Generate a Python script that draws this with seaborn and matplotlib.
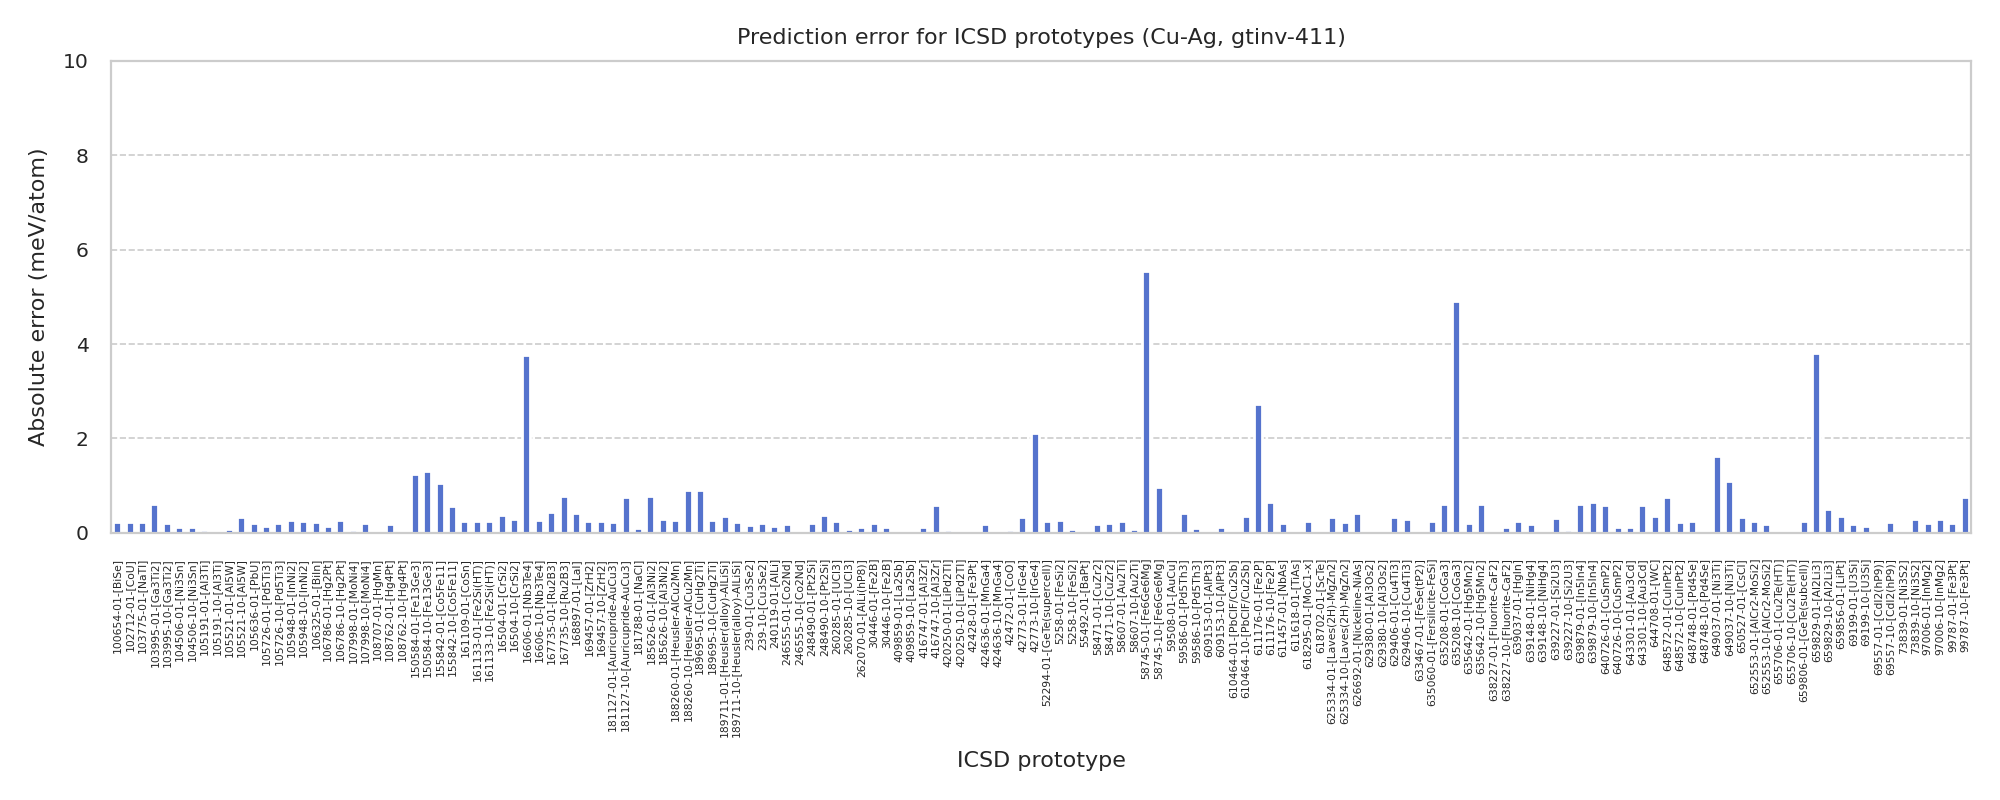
import matplotlib
matplotlib.use("Agg")
import matplotlib.pyplot as plt
import seaborn as sns

# ICSD prototype ids (in plot order) and absolute error in meV/atom
prototypes = [
    "100654-01-[BiSe]", "102712-01-[CoU]", "103775-01-[NaTl]", "103995-01-[Ga3Ti2]",
    "103995-10-[Ga3Ti2]", "104506-01-[Ni3Sn]", "104506-10-[Ni3Sn]", "105191-01-[Al3Ti]",
    "105191-10-[Al3Ti]", "105521-01-[Al5W]", "105521-10-[Al5W]", "105636-01-[PbU]",
    "105726-01-[Pd5Ti3]", "105726-10-[Pd5Ti3]", "105948-01-[InNi2]", "105948-10-[InNi2]",
    "106325-01-[BiIn]", "106786-01-[Hg2Pt]", "106786-10-[Hg2Pt]", "107998-01-[MoNi4]",
    "107998-10-[MoNi4]", "108707-01-[HgMn]", "108762-01-[Hg4Pt]", "108762-10-[Hg4Pt]",
    "150584-01-[Fe13Ge3]", "150584-10-[Fe13Ge3]", "155842-01-[Co5Fe11]", "155842-10-[Co5Fe11]",
    "161109-01-[CoSn]", "161133-01-[Fe2Si(HT)]", "161133-10-[Fe2Si(HT)]", "16504-01-[CrSi2]",
    "16504-10-[CrSi2]", "16606-01-[Nb3Te4]", "16606-10-[Nb3Te4]", "167735-01-[Ru2B3]",
    "167735-10-[Ru2B3]", "168897-01-[LaI]", "169457-01-[ZrH2]", "169457-10-[ZrH2]",
    "181127-01-[Auricupride-AuCu3]", "181127-10-[Auricupride-AuCu3]", "181788-01-[NaCl]",
    "185626-01-[Al3Ni2]", "185626-10-[Al3Ni2]", "188260-01-[Heusler-AlCu2Mn]",
    "188260-10-[Heusler-AlCu2Mn]", "189695-01-[CuHg2Ti]", "189695-10-[CuHg2Ti]",
    "189711-01-[Heusler(alloy)-AlLiSi]", "189711-10-[Heusler(alloy)-AlLiSi]",
    "239-01-[Cu3Se2]", "239-10-[Cu3Se2]", "240119-01-[AlLi]", "246555-01-[Co2Nd]",
    "246555-10-[Co2Nd]", "248490-01-[Pt2Si]", "248490-10-[Pt2Si]", "260285-01-[UCl3]",
    "260285-10-[UCl3]", "262070-01-[AlLi(hP8)]", "30446-01-[Fe2B]", "30446-10-[Fe2B]",
    "409859-01-[La2Sb]", "409859-10-[La2Sb]", "416747-01-[Al3Zr]", "416747-10-[Al3Zr]",
    "420250-01-[LiPd2Tl]", "420250-10-[LiPd2Tl]", "42428-01-[Fe3Pt]", "424636-01-[MnGa4]",
    "424636-10-[MnGa4]", "42472-01-[CoO]", "42773-01-[IrGe4]", "42773-10-[IrGe4]",
    "52294-01-[GeTe(supercell)]", "5258-01-[FeSi2]", "5258-10-[FeSi2]", "55492-01-[BaPt]",
    "58471-01-[CuZr2]", "58471-10-[CuZr2]", "58607-01-[Au2Ti]", "58607-10-[Au2Ti]",
    "58745-01-[Fe6Ge6Mg]", "58745-10-[Fe6Ge6Mg]", "59508-01-[AuCu]", "59586-01-[Pd5Th3]",
    "59586-10-[Pd5Th3]", "609153-01-[AlPt3]", "609153-10-[AlPt3]", "610464-01-[PbClF/Cu2Sb]",
    "610464-10-[PbClF/Cu2Sb]", "611176-01-[Fe2P]", "611176-10-[Fe2P]", "611457-01-[NbAs]",
    "611618-01-[TiAs]", "618295-01-[MoC1-x]", "618702-01-[ScTe]", "625334-01-[Laves(2H)-MgZn2]",
    "625334-10-[Laves(2H)-MgZn2]", "626692-01-[Nickeline-NiAs]", "629380-01-[Al3Os2]",
    "629380-10-[Al3Os2]", "629406-01-[Cu4Ti3]", "629406-10-[Cu4Ti3]", "633467-01-[FeSe(tP2)]",
    "635060-01-[Fersilicite-FeSi]", "635208-01-[CoGa3]", "635208-10-[CoGa3]",
    "635642-01-[Hg5Mn2]", "635642-10-[Hg5Mn2]", "638227-01-[Fluorite-CaF2]",
    "638227-10-[Fluorite-CaF2]", "639037-01-[HgIn]", "639148-01-[NiHg4]", "639148-10-[NiHg4]",
    "639227-01-[Si2U3]", "639227-10-[Si2U3]", "639879-01-[In5In4]", "639879-10-[In5In4]",
    "640726-01-[CuSmP2]", "640726-10-[CuSmP2]", "643301-01-[Au3Cd]", "643301-10-[Au3Cd]",
    "644708-01-[WC]", "648572-01-[CuInPt2]", "648572-10-[CuInPt2]", "648748-01-[Pd4Se]",
    "648748-10-[Pd4Se]", "649037-01-[Ni3Ti]", "649037-10-[Ni3Ti]", "650527-01-[CsCl]",
    "652553-01-[AlCr2-MoSi2]", "652553-10-[AlCr2-MoSi2]", "655706-01-[Cu2Te(HT)]",
    "655706-10-[Cu2Te(HT)]", "659806-01-[GeTe(subcell)]", "659829-01-[Al2Li3]",
    "659829-10-[Al2Li3]", "659856-01-[LiPt]", "69199-01-[U3Si]", "69199-10-[U3Si]",
    "69557-01-[CdI2(hP9)]", "69557-10-[CdI2(hP9)]", "73839-01-[Ni3S2]", "73839-10-[Ni3S2]",
    "97006-01-[InMg2]", "97006-10-[InMg2]", "99787-01-[Fe3Pt]", "99787-10-[Fe3Pt]",
]

abs_error = [
    0.22, 0.22, 0.22, 0.60, 0.20, 0.12, 0.12, 0.05, 0.0, 0.08,
    0.33, 0.20, 0.14, 0.20, 0.27, 0.25, 0.22, 0.14, 0.27, 0.05,
    0.20, 0.0, 0.18, 0.0, 1.25, 1.30, 1.05, 0.56, 0.25, 0.25,
    0.25, 0.37, 0.29, 3.76, 0.27, 0.45, 0.77, 0.41, 0.26, 0.24,
    0.22, 0.75, 0.10, 0.79, 0.30, 0.28, 0.91, 0.91, 0.28, 0.36,
    0.22, 0.16, 0.20, 0.14, 0.18, 0.0, 0.20, 0.37, 0.26, 0.09,
    0.12, 0.20, 0.12, 0.0, 0.0, 0.12, 0.58, 0.05, 0.0, 0.0,
    0.18, 0.0, 0.05, 0.34, 2.12, 0.25, 0.27, 0.08, 0.0, 0.19,
    0.21, 0.24, 0.08, 5.54, 0.97, 0.0, 0.42, 0.10, 0.0, 0.13,
    0.0, 0.36, 2.72, 0.65, 0.20, 0.0, 0.25, 0.0, 0.33, 0.23,
    0.41, 0.0, 0.0, 0.33, 0.29, 0.0, 0.25, 0.60, 4.92, 0.20,
    0.60, 0.0, 0.12, 0.25, 0.18, 0.0, 0.31, 0.05, 0.60, 0.65,
    0.58, 0.12, 0.12, 0.58, 0.35, 0.75, 0.23, 0.25, 0.0, 1.62,
    1.10, 0.33, 0.25, 0.18, 0.0, 0.0, 0.25, 3.80, 0.50, 0.35,
    0.18, 0.14, 0.0, 0.23, 0.0, 0.29, 0.20, 0.29, 0.20, 0.76,
]

sns.set_theme(style="whitegrid")
plt.rcParams["font.family"] = ["DejaVu Sans"]

fig, ax = plt.subplots(figsize=(10, 4), dpi=200)
fig.subplots_adjust(left=0.0555, right=0.9855, top=0.924, bottom=0.334)

sns.barplot(x=prototypes, y=abs_error, color="royalblue", width=0.65, ax=ax)

ax.set_ylim(0, 10)
ax.set_yticks([0, 2, 4, 6, 8, 10])
ax.grid(axis="x", visible=False)
ax.grid(axis="y", linestyle="--", linewidth=0.6, color="#cccccc")
for s in ax.spines.values():
    s.set_color("#cccccc")
    s.set_linewidth(0.8)

ax.tick_params(axis="x", labelrotation=90, labelsize=3.9, pad=9, length=0)
ax.tick_params(axis="y", labelsize=7.3, pad=8, length=0)

ax.set_title("Prediction error for ICSD prototypes (Cu-Ag, gtinv-411)", fontsize=8, pad=6)
ax.set_xlabel("ICSD prototype", fontsize=8, labelpad=5)
ax.set_ylabel("Absolute error (meV/atom)", fontsize=8, labelpad=5)

fig.savefig("out.png", dpi=200)
